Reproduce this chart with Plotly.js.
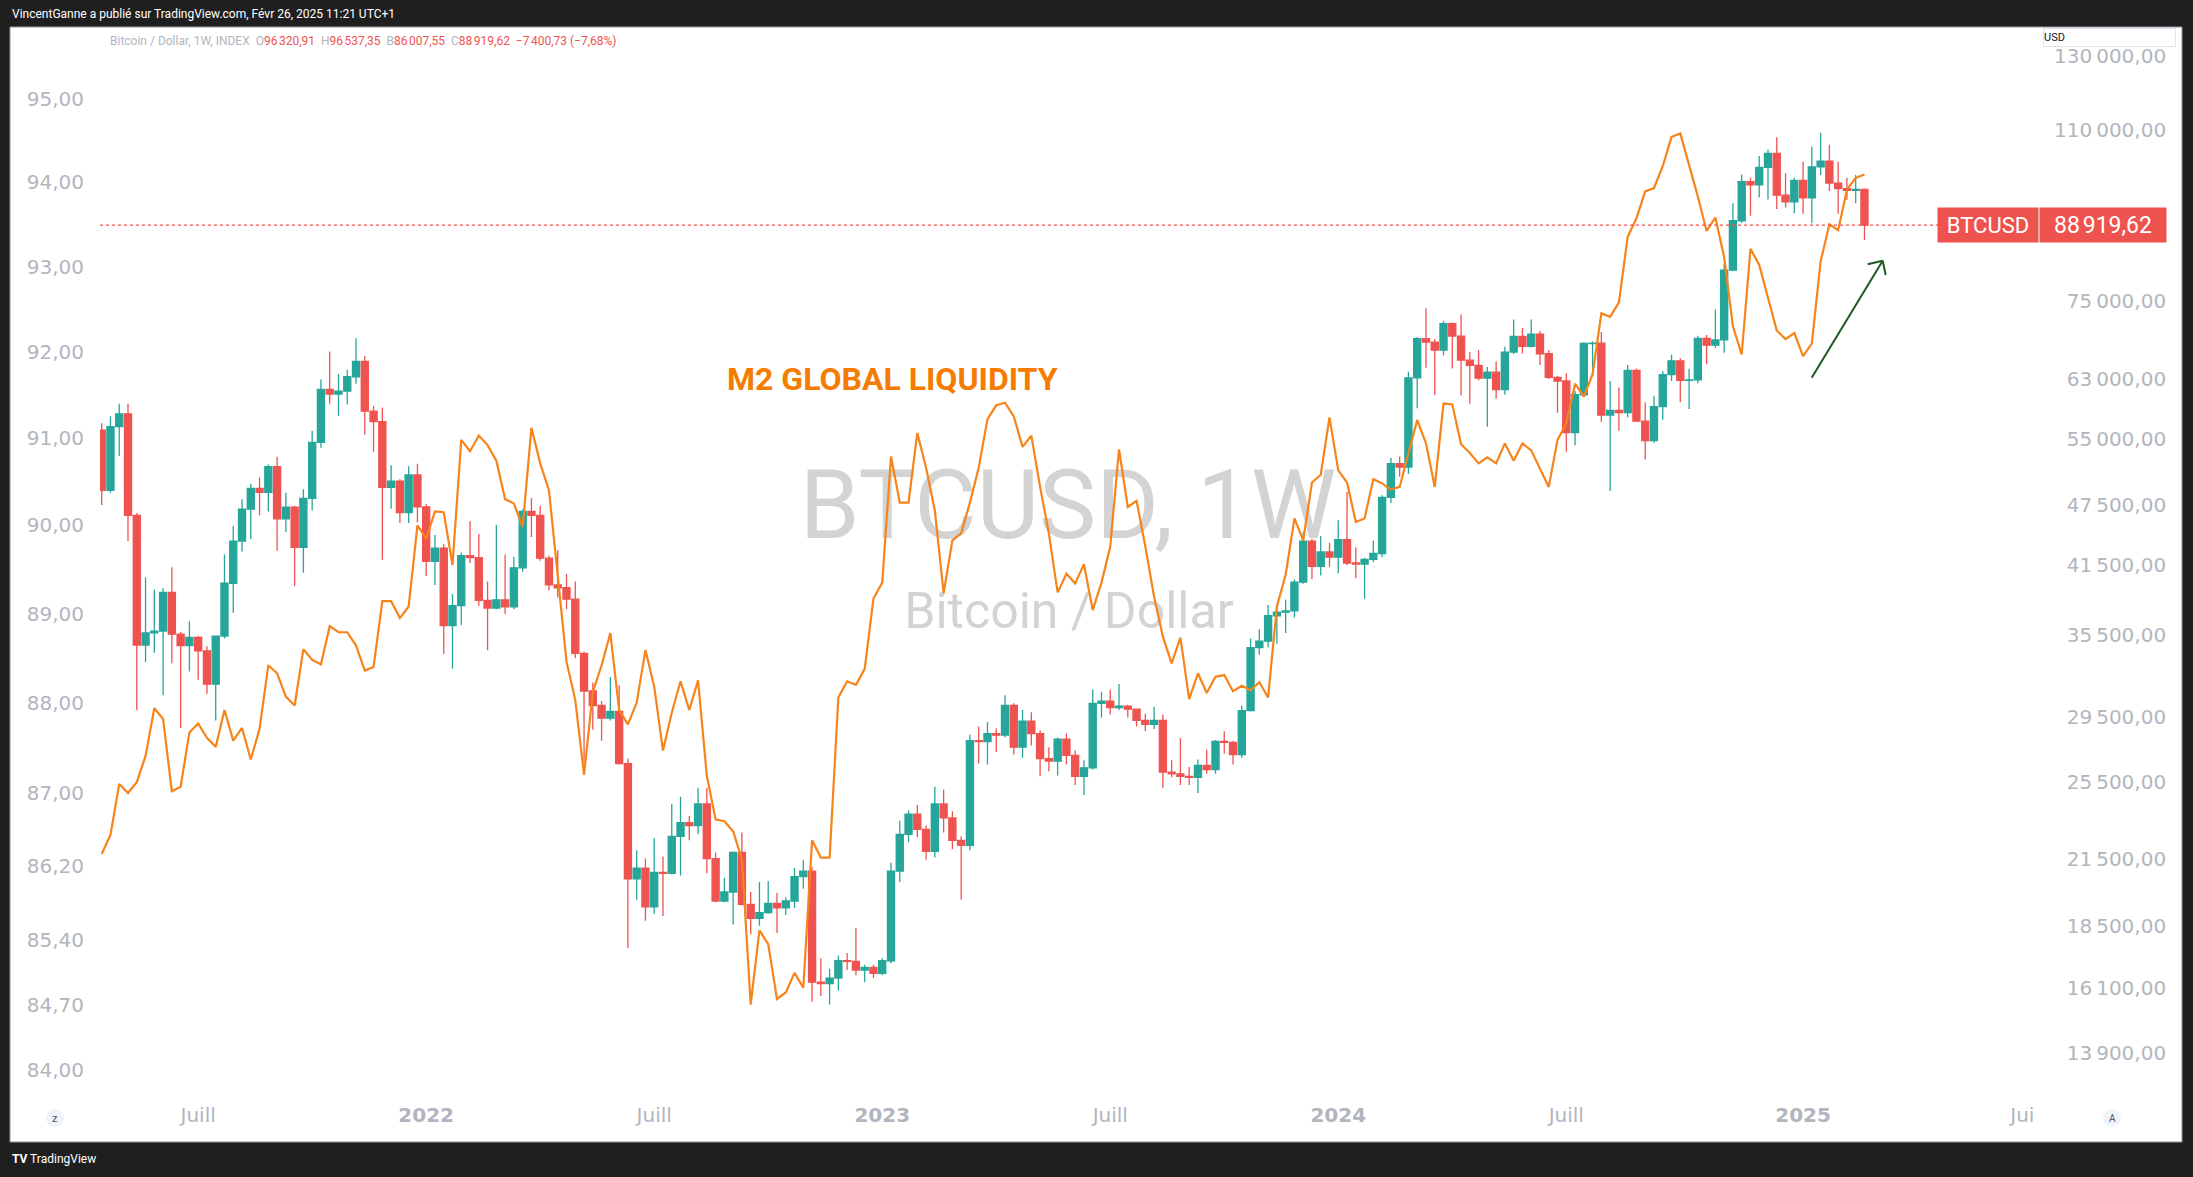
<!DOCTYPE html>
<html><head><meta charset="utf-8">
<script src="https://cdn.plot.ly/plotly-3.0.1.min.js"></script>
<style>html,body{margin:0;padding:0;background:#1f1f1f;overflow:hidden}#chart{width:2193px;height:1177px}</style>
</head><body><div id="chart"></div>
<script>
// ---------------- DATA ----------------
const weeks = [
'2021-04-19','2021-04-26','2021-05-03','2021-05-10','2021-05-17','2021-05-24','2021-05-31','2021-06-07','2021-06-14','2021-06-21','2021-06-28','2021-07-05','2021-07-12','2021-07-19','2021-07-26','2021-08-02','2021-08-09','2021-08-16','2021-08-23','2021-08-30','2021-09-06','2021-09-13','2021-09-20','2021-09-27','2021-10-04','2021-10-11','2021-10-18','2021-10-25','2021-11-01','2021-11-08','2021-11-15','2021-11-22','2021-11-29','2021-12-06','2021-12-13','2021-12-20','2021-12-27',
'2022-01-03','2022-01-10','2022-01-17','2022-01-24','2022-01-31','2022-02-07','2022-02-14','2022-02-21','2022-02-28','2022-03-07','2022-03-14','2022-03-21','2022-03-28','2022-04-04','2022-04-11','2022-04-18','2022-04-25','2022-05-02','2022-05-09','2022-05-16','2022-05-23','2022-05-30','2022-06-06','2022-06-13','2022-06-20','2022-06-27','2022-07-04','2022-07-11','2022-07-18','2022-07-25','2022-08-01','2022-08-08','2022-08-15','2022-08-22','2022-08-29','2022-09-05','2022-09-12','2022-09-19','2022-09-26','2022-10-03','2022-10-10','2022-10-17','2022-10-24','2022-10-31','2022-11-07','2022-11-14','2022-11-21','2022-11-28','2022-12-05','2022-12-12','2022-12-19','2022-12-26',
'2023-01-02','2023-01-09','2023-01-16','2023-01-23','2023-01-30','2023-02-06','2023-02-13','2023-02-20','2023-02-27','2023-03-06','2023-03-13','2023-03-20','2023-03-27','2023-04-03','2023-04-10','2023-04-17','2023-04-24','2023-05-01','2023-05-08','2023-05-15','2023-05-22','2023-05-29','2023-06-05','2023-06-12','2023-06-19','2023-06-26','2023-07-03','2023-07-10','2023-07-17','2023-07-24','2023-07-31','2023-08-07','2023-08-14','2023-08-21','2023-08-28','2023-09-04','2023-09-11','2023-09-18','2023-09-25','2023-10-02','2023-10-09','2023-10-16','2023-10-23','2023-10-30','2023-11-06','2023-11-13','2023-11-20','2023-11-27','2023-12-04','2023-12-11','2023-12-18','2023-12-25',
'2024-01-01','2024-01-08','2024-01-15','2024-01-22','2024-01-29','2024-02-05','2024-02-12','2024-02-19','2024-02-26','2024-03-04','2024-03-11','2024-03-18','2024-03-25','2024-04-01','2024-04-08','2024-04-15','2024-04-22','2024-04-29','2024-05-06','2024-05-13','2024-05-20','2024-05-27','2024-06-03','2024-06-10','2024-06-17','2024-06-24','2024-07-01','2024-07-08','2024-07-15','2024-07-22','2024-07-29','2024-08-05','2024-08-12','2024-08-19','2024-08-26','2024-09-02','2024-09-09','2024-09-16','2024-09-23','2024-09-30','2024-10-07','2024-10-14','2024-10-21','2024-10-28','2024-11-04','2024-11-11','2024-11-18','2024-11-25','2024-12-02','2024-12-09','2024-12-16','2024-12-23','2024-12-30',
'2025-01-06','2025-01-13','2025-01-20','2025-01-27','2025-02-03','2025-02-10','2025-02-17','2025-02-24'
];

const btcOpen = [
56150,49070,56600,58250,46400,34700,35650,35800,39050,35550,34650,35300,34250,31780,35400,39850,43800,47050,49300,48850,51750,46050,47250,43200,48200,54650,61550,60900,61300,63300,65500,58600,57250,49400,50100,46700,50800,
47300,41850,43100,36250,37900,42400,42200,38350,37700,38400,37800,41250,46800,46400,42150,39700,39450,38450,34050,31300,30300,29450,29900,26600,20550,21050,19300,20850,20800,22600,23300,23150,24300,21500,19550,19950,21800,19400,18800,19050,19450,19250,19550,20650,20900,16300,16250,16450,17100,17080,16750,16850,
16620,17100,20900,22700,23750,22950,21850,24300,23550,22400,22150,28000,27950,28450,28350,30300,27600,29250,28450,26900,26750,28100,27100,25850,26350,30450,30600,30150,30250,30050,29300,29050,29300,26100,26000,25850,25800,26500,26250,27950,27900,27150,29950,34500,35000,37050,37350,37450,39950,43800,41400,42750,
42250,43950,41700,41600,42050,42600,48300,52100,51700,63150,68950,68400,67200,71300,69350,65700,64950,63100,63950,61500,66900,69300,67750,69650,66650,63200,62700,55850,60800,68200,68250,58100,58700,58400,64200,57300,54850,59200,63600,65600,62800,62850,69000,67950,68750,80400,89800,98000,97300,101200,104450,95100,93700,
98300,94500,101300,102600,97700,96500,96150,96320.91
];
const btcHigh = [
57050,57950,59600,59600,46650,40400,39300,39400,41300,35750,36600,35400,34600,35450,42500,45300,48100,49800,50500,52000,52900,48800,47400,49200,56100,62900,67000,63700,64300,69000,66300,59300,59100,51900,50300,51800,52100,
47600,44400,43500,38900,42700,45800,44500,40000,45400,42500,42300,47000,48200,47400,42400,42900,40700,40000,34200,31900,30600,32300,31700,26900,21900,21500,22500,21600,24300,24700,23650,25200,25200,21800,20600,21850,22800,19950,20400,20450,19900,19700,21050,21450,21100,17200,16800,17300,17400,18400,16950,16950,
17200,21300,23400,23950,24250,23150,25250,25100,23900,22600,28400,28900,29200,28800,31000,30450,30000,29850,28650,27600,28200,28450,27400,26800,31400,31250,31400,31800,30350,30100,29750,30200,29700,26800,28150,26400,26850,27450,28050,28600,28000,30300,35200,35950,37950,37950,38400,40200,44700,44000,44300,43600,
45900,48900,43200,42200,43850,48550,52800,52950,64000,69200,73800,68900,71750,71500,72800,66900,67200,64700,65500,67700,71950,70600,71950,70150,67200,63400,63800,61300,68400,68500,70000,62700,61800,65000,64500,59800,60650,64100,66500,66000,64450,69400,69500,73600,81500,93400,99600,98900,103800,105300,108300,99900,98900,
102500,106000,109350,106500,102500,98800,99500,96537.35
];
const btcLow = [
47500,48800,53000,43800,30000,33400,34100,31000,33300,28800,32700,32100,31100,29300,35200,37300,42800,44000,46400,46800,42850,44700,39600,40800,46900,54000,59600,58000,59500,62300,55600,53500,42000,47100,45600,45600,45700,
40500,39700,34000,32900,36300,41700,37900,34300,37600,37200,37600,40900,44200,41900,39200,38600,37600,33700,26700,28700,28000,29300,26550,17600,19600,18700,19000,18900,20750,20700,22400,22700,20800,19500,19500,18550,19350,18150,18500,19000,18200,18950,19250,20100,15600,15800,15500,16000,16750,16550,16300,16450,
16550,17000,20400,22300,22550,21450,21550,22800,21950,19600,21900,26600,26550,27300,28200,27150,26950,27700,25850,26150,25900,26550,25350,24800,26250,29500,29700,30000,29500,28900,28600,28750,25200,25800,25350,25350,24900,26000,26000,27200,26550,26950,29900,33950,34500,34800,35650,36900,39800,40200,40550,41350,
40750,41500,40300,38500,41800,42250,47700,50600,50900,59000,64600,60800,66400,64500,60700,59600,62800,56600,60250,60800,66600,66700,67600,65000,63000,58400,53500,54300,60700,63400,57200,49000,56100,57800,57200,52600,54600,57500,62700,59800,58900,62400,65100,67500,66800,80200,89400,90800,94600,94200,92200,92500,91300,
91200,89300,99500,96000,91200,94100,93400,86007.55
];
const btcClose = [
49070,56600,58250,46400,34700,35650,35800,39050,35550,34650,35300,34250,31780,35400,39850,43800,47050,49300,48850,51750,46050,47250,43200,48200,54650,61550,60900,61300,63300,65500,58600,57250,49400,50100,46700,50800,47300,
41850,43100,36250,37900,42400,42200,38350,37700,38400,37800,41250,46800,46400,42150,39700,39450,38450,34050,31300,30300,29450,29900,26600,20550,21050,19300,20850,20800,22600,23300,23150,24300,21500,19550,19950,21800,19400,18800,19050,19450,19250,19550,20650,20900,16300,16250,16450,17100,17080,16750,16850,16620,
17100,20900,22700,23750,22950,21850,24300,23550,22400,22150,28000,27950,28450,28350,30300,27600,29250,28450,26900,26750,28100,27100,25850,26350,30450,30600,30150,30250,30050,29300,29050,29300,26100,26000,25850,25800,26500,26250,27950,27900,27150,29950,34500,35000,37050,37350,37450,39950,43800,41400,42750,42250,
43950,41700,41600,42050,42600,48300,52100,51700,63150,68950,68400,67200,71300,69350,65700,64950,63100,63950,61500,66900,69300,67750,69650,66650,63200,62700,55850,60800,68200,68250,58100,58700,58400,64200,57300,54850,59200,63600,65600,62800,62850,69000,67950,68750,80400,89800,98000,97300,101200,104450,95100,93700,98300,
94500,101300,102600,97700,96500,96150,96320.91,88919.62
];
// M2 global liquidity (left scale)
const m2Liquidity = [
86.33,86.54,87.10,87.00,87.12,87.41,87.94,87.82,87.02,87.07,87.67,87.77,87.61,87.51,87.92,87.58,87.72,87.37,87.71,88.42,88.33,88.07,87.97,88.60,88.48,88.43,88.86,88.79,88.79,88.64,88.36,88.40,89.14,89.14,88.95,89.08,90.00,
89.85,90.16,90.15,89.55,90.98,90.85,91.03,90.92,90.74,90.30,90.25,89.98,91.12,90.71,90.40,89.43,88.46,88.03,87.20,88.12,88.42,88.78,87.92,87.76,88.00,88.59,88.18,87.47,87.89,88.24,87.92,88.25,87.19,86.71,86.69,86.58,86.27,84.70,85.50,85.35,84.76,84.83,85.04,84.88,86.48,86.29,86.29,88.06,88.24,88.20,88.38,89.17,
89.35,90.79,90.26,90.26,91.06,90.66,90.17,89.23,89.83,89.91,90.26,90.66,91.22,91.38,91.41,91.25,90.90,91.03,90.44,89.91,89.24,89.45,89.34,89.56,89.04,89.35,89.76,90.87,90.21,90.28,89.76,89.19,88.74,88.44,88.73,88.04,88.33,88.11,88.29,88.31,88.13,88.19,88.14,88.23,88.06,89.08,89.44,90.08,89.83,90.49,90.58,91.24,
90.63,90.49,90.04,90.08,90.53,90.48,90.41,90.44,90.81,91.21,90.94,90.44,91.40,91.39,90.93,90.83,90.71,90.78,90.71,90.94,90.74,90.94,90.86,90.65,90.44,90.98,91.17,91.63,91.48,91.74,92.45,92.41,92.58,93.35,93.57,93.89,93.93,94.19,94.54,94.58,94.21,93.83,93.42,93.58,93.11,92.30,91.97,93.21,93.02,92.62,92.25,92.15,92.22,
91.95,92.10,93.06,93.50,93.43,93.91,94.05,94.09
];

// tick labels
const btcTickVals = [130000,110000,75000,63000,55000,47500,41500,35500,29500,25500,21500,18500,16100,13900];
const btcTickText = ['130\u202F000,00','110\u202F000,00','\u200775\u202F000,00','\u200763\u202F000,00','\u200755\u202F000,00','\u200747\u202F500,00','\u200741\u202F500,00','\u200735\u202F500,00','\u200729\u202F500,00','\u200725\u202F500,00','\u200721\u202F500,00','\u200718\u202F500,00','\u200716\u202F100,00','\u200713\u202F900,00'];
const m2TickVals = [95,94,93,92,91,90,89,88,87,86.2,85.4,84.7,84];
const m2TickText = ['95,00','94,00','93,00','92,00','91,00','90,00','89,00','88,00','87,00','86,20','85,40','84,70','84,00'];
const timeTickVals = ['2021-07-05','2022-01-03','2022-07-04','2023-01-02','2023-07-03','2024-01-01','2024-07-01','2025-01-06','2025-06-30'];
const timeTickText = ['Juill','2022','Juill','2023','Juill','2024','Juill','2025','Jui'];
const lastPrice = 88919.62;

// ---------------- GEOMETRY ----------------
const W = 2193, H = 1177, L = 100, R = 2039, T = 28, B = 1092;
const PX = px => (px - L) / (R - L);
const PY = py => (B - py) / (B - T);
const btcRange = [4.105255, 5.140866];
const m2Range = [1.923071, 1.981608];
const WEEK = 7 * 864e5;
const pxPerWeek = 8.77, firstBarPx = 101.7;
const t0 = Date.parse(weeks[0] + 'T00:00:00Z');
const tStart = t0 - (firstBarPx - L) / pxPerWeek * WEEK;
const tEnd = t0 + (R - firstBarPx) / pxPerWeek * WEEK;
const iso = ms => new Date(ms).toISOString().slice(0, 19).replace('T', ' ');
const xAtPx = px => iso(tStart + (px - L) / (R - L) * (tEnd - tStart));
const btcAtPx = py => Math.pow(10, btcRange[0] + PY(py) * (btcRange[1] - btcRange[0]));
const btcPY = p => (Math.log10(p) - btcRange[0]) / (btcRange[1] - btcRange[0]);

const gray = '#b2b5be';
const red = '#ef5350', teal = '#26a69a';
const sp = '\u00A0\u00A0';

// ---------------- TRACES ----------------
const watermark = {
  type: 'scatter', mode: 'text', xaxis: 'x', yaxis: 'y',
  x: [xAtPx(1068), xAtPx(1069)], y: [btcAtPx(514), btcAtPx(615)],
  text: ['BTCUSD, 1W', 'Bitcoin / Dollar'],
  textposition: 'middle center',
  textfont: {family: 'Roboto, sans-serif', size: [96, 50], color: '#d3d3d3'},
  hoverinfo: 'skip', showlegend: false, cliponaxis: false
};
const candles = {
  type: 'candlestick', xaxis: 'x', yaxis: 'y',
  x: weeks, open: btcOpen, high: btcHigh, low: btcLow, close: btcClose,
  increasing: {line: {color: teal, width: 1.3}, fillcolor: teal},
  decreasing: {line: {color: red, width: 1.3}, fillcolor: red},
  whiskerwidth: 0, hoverinfo: 'skip', showlegend: false
};
const m2Line = {
  type: 'scatter', mode: 'lines', xaxis: 'x', yaxis: 'y2',
  x: weeks, y: m2Liquidity,
  line: {color: '#f7841a', width: 2.2},
  hoverinfo: 'skip', showlegend: false
};

// ---------------- LAYOUT ----------------
const tickFont = {family: 'DejaVu Sans, sans-serif', size: 20, color: gray};
const lastY = btcPY(lastPrice);

const shapes = [
  {type: 'rect', xref: 'paper', yref: 'paper', layer: 'below',
   x0: PX(10), x1: PX(2182), y0: PY(1142), y1: PY(27),
   fillcolor: '#ffffff', line: {color: '#9598a1', width: 1}},
  {type: 'line', xref: 'paper', yref: 'paper', x0: 0, x1: PX(1938), y0: lastY, y1: lastY,
   line: {color: red, width: 1.2, dash: 'dot'}},
  {type: 'line', xref: 'paper', yref: 'paper', x0: PX(1811.7), y0: PY(377.8), x1: PX(1882.7), y1: PY(260.7),
   line: {color: '#1e5a23', width: 2}},
  {type: 'line', xref: 'paper', yref: 'paper', x0: PX(1882.7), y0: PY(260.7), x1: PX(1867.7), y1: PY(264.3),
   line: {color: '#1e5a23', width: 2}},
  {type: 'line', xref: 'paper', yref: 'paper', x0: PX(1882.7), y0: PY(260.7), x1: PX(1885.7), y1: PY(275),
   line: {color: '#1e5a23', width: 2}},
  {type: 'circle', xref: 'paper', yref: 'paper', layer: 'above',
   x0: PX(46), x1: PX(64), y0: PY(1127), y1: PY(1109), fillcolor: '#f0f3fa', line: {width: 0}},
  {type: 'circle', xref: 'paper', yref: 'paper', layer: 'above',
   x0: PX(2103), x1: PX(2121), y0: PY(1127), y1: PY(1109), fillcolor: '#f0f3fa', line: {width: 0}}
];

const legendText =
  '<span style="color:' + gray + '">Bitcoin / Dollar, 1W, INDEX</span>' + sp +
  '<span style="color:' + gray + '">O</span><span style="color:' + red + '">96\u202F320,91</span>' + sp +
  '<span style="color:' + gray + '">H</span><span style="color:' + red + '">96\u202F537,35</span>' + sp +
  '<span style="color:' + gray + '">B</span><span style="color:' + red + '">86\u202F007,55</span>' + sp +
  '<span style="color:' + gray + '">C</span><span style="color:' + red + '">88\u202F919,62</span>' + sp +
  '<span style="color:' + red + '">\u22127\u202F400,73 (\u22127,68%)</span>';

const annotations = [
  {xref: 'paper', yref: 'paper', x: PX(10), y: PY(14), xanchor: 'left', yanchor: 'middle', showarrow: false,
   text: 'VincentGanne a publié sur TradingView.com, Févr 26, 2025 11:21 UTC+1',
   font: {family: 'Roboto, sans-serif', size: 12, color: '#ffffff'}},
  {xref: 'paper', yref: 'paper', x: PX(108), y: PY(41), xanchor: 'left', yanchor: 'middle', showarrow: false,
   text: legendText, font: {family: 'Roboto, sans-serif', size: 12, color: gray}},
  {xref: 'paper', yref: 'paper', x: PX(2043), y: PY(37.5), xanchor: 'left', yanchor: 'middle', showarrow: false,
   text: 'USD', align: 'left', width: 131, height: 17, borderpad: 0, bgcolor: '#ffffff',
   bordercolor: '#e0e3eb', borderwidth: 1, font: {family: 'Roboto, sans-serif', size: 11, color: '#131722'}},
  {xref: 'paper', yref: 'paper', x: PX(1988), y: lastY, xanchor: 'center', yanchor: 'middle', showarrow: false,
   text: 'BTCUSD', width: 100, height: 34, borderpad: 0, bgcolor: red,
   font: {family: 'Roboto, sans-serif', size: 22, color: '#ffffff'}},
  {xref: 'paper', yref: 'paper', x: PX(2103), y: lastY, xanchor: 'center', yanchor: 'middle', showarrow: false,
   text: '88\u202F919,62', width: 126, height: 34, borderpad: 0, bgcolor: red,
   font: {family: 'Roboto, sans-serif', size: 23, color: '#ffffff'}},
  {xref: 'paper', yref: 'paper', x: PX(892), y: PY(379), xanchor: 'center', yanchor: 'middle', showarrow: false,
   text: '<b>M2 GLOBAL LIQUIDITY</b>', font: {family: 'Roboto, sans-serif', size: 32, color: '#f57c00'}},
  {xref: 'paper', yref: 'paper', x: PX(55), y: PY(1118), xanchor: 'center', yanchor: 'middle', showarrow: false,
   text: 'z', font: {family: 'Roboto, sans-serif', size: 11, color: '#50535e'}},
  {xref: 'paper', yref: 'paper', x: PX(2112), y: PY(1118), xanchor: 'center', yanchor: 'middle', showarrow: false,
   text: 'A', font: {family: 'Roboto, sans-serif', size: 10, color: '#50535e'}},
  {xref: 'paper', yref: 'paper', x: PX(10), y: PY(1159), xanchor: 'left', yanchor: 'middle', showarrow: false,
   text: '<b>TV</b> TradingView', font: {family: 'Roboto, sans-serif', size: 12, color: '#ffffff'}}
];

const layout = {
  width: W, height: H,
  margin: {l: L, r: W - R, t: T, b: H - B, pad: 0},
  paper_bgcolor: '#1f1f1f', plot_bgcolor: '#ffffff',
  showlegend: false, boxgap: 0.15, boxgroupgap: 0.05,
  font: {family: 'DejaVu Sans, sans-serif', color: gray},
  xaxis: {type: 'date', range: [iso(tStart), iso(tEnd)], rangeslider: {visible: false},
          showgrid: false, zeroline: false, showline: false, ticks: '',
          tickvals: timeTickVals,
          ticktext: timeTickText.map(t => /^\d{4}$/.test(t) ? '<b>' + t + '</b>' : t),
          tickfont: tickFont, ticklabelstandoff: 9, fixedrange: true},
  yaxis: {type: 'log', side: 'right', range: btcRange, showgrid: false, zeroline: false, showline: false,
          ticks: '', tickvals: btcTickVals, ticktext: btcTickText, tickfont: tickFont,
          ticklabelstandoff: 14, fixedrange: true},
  yaxis2: {type: 'log', side: 'left', overlaying: 'y', range: m2Range, showgrid: false, zeroline: false,
           showline: false, ticks: '', tickvals: m2TickVals, ticktext: m2TickText, tickfont: tickFont,
           ticklabelstandoff: 15, fixedrange: true},
  shapes: shapes,
  annotations: annotations
};

Plotly.newPlot('chart', [watermark, candles, m2Line], layout, {staticPlot: true, displayModeBar: false});
</script>
</body></html>
